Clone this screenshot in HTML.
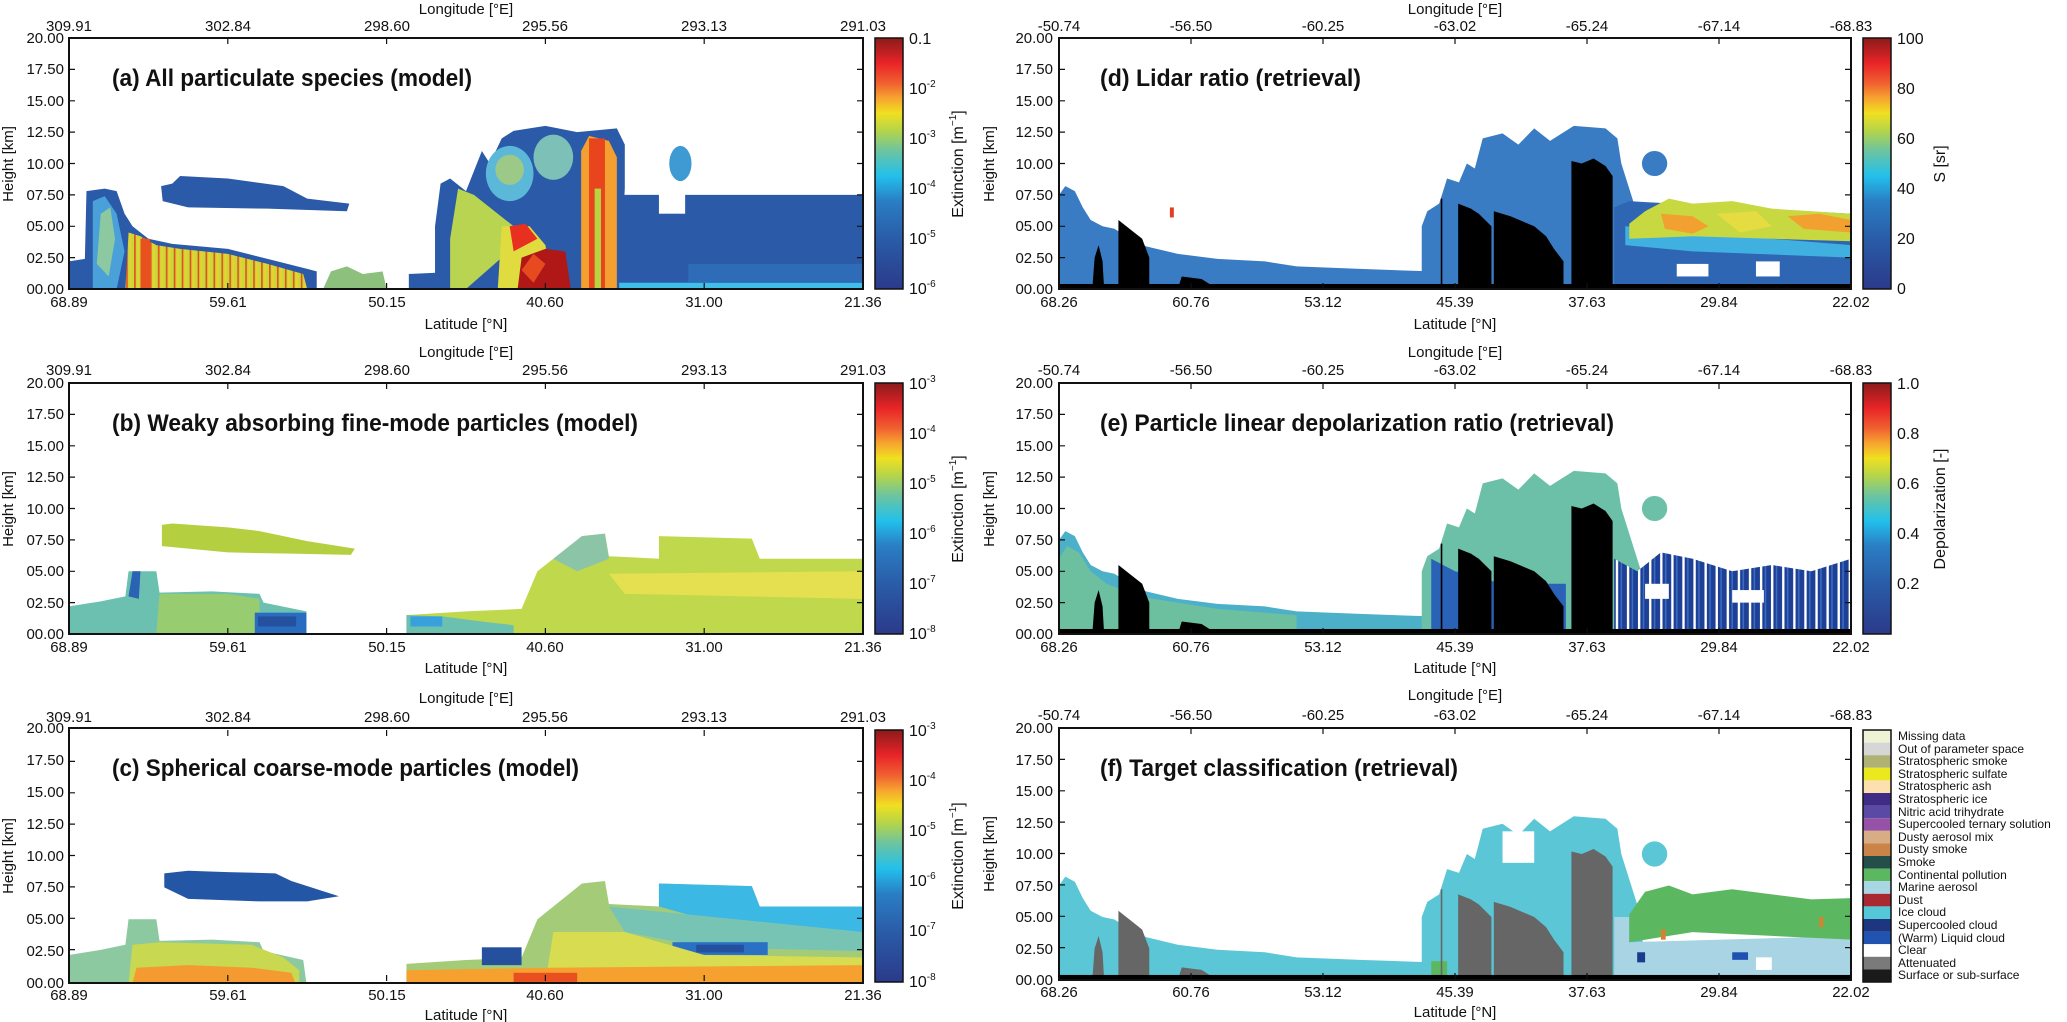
<!DOCTYPE html>
<html><head><meta charset="utf-8"><style>
html,body{margin:0;padding:0;background:#fff;}
svg{display:block;font-family:"Liberation Sans",sans-serif;}
.t{font-size:15px;fill:#111;}
.ti{font-size:24px;font-weight:bold;fill:#111;}
.lg{font-size:12px;fill:#111;}
</style></head><body>
<svg width="2067" height="1022" viewBox="0 0 2067 1022" xmlns="http://www.w3.org/2000/svg">
<defs>
<linearGradient id="jet" x1="0" y1="1" x2="0" y2="0">
<stop offset="0" stop-color="#2b3a8a"/><stop offset="0.2" stop-color="#2a5ca8"/><stop offset="0.35" stop-color="#2a7ec4"/><stop offset="0.45" stop-color="#22c0ec"/><stop offset="0.55" stop-color="#6cc4a0"/><stop offset="0.63" stop-color="#b4d44a"/><stop offset="0.7" stop-color="#f0e020"/><stop offset="0.76" stop-color="#f7a430"/><stop offset="0.82" stop-color="#f06030"/><stop offset="0.9" stop-color="#e82428"/><stop offset="1" stop-color="#8c1a1a"/>
</linearGradient>
<pattern id="streakE" width="14" height="200" patternUnits="userSpaceOnUse">
<rect width="14" height="200" fill="#1e3f96"/><rect x="3" width="3" height="200" fill="#fff"/><rect x="9" width="2" height="200" fill="#3a6cc0"/>
</pattern>
<pattern id="streakA" width="10" height="200" patternUnits="userSpaceOnUse">
<rect width="10" height="200" fill="#c8d838"/><rect x="2" width="2" height="200" fill="#e84a20"/><rect x="6" width="2" height="200" fill="#f0d030"/>
</pattern>
<path id="tkL" d="M0,0v6M158.8,0v6M317.6,0v6M476.4,0v6M635.2,0v6M794,0v6M0,251v-6M158.8,251v-6M317.6,251v-6M476.4,251v-6M635.2,251v-6M794,251v-6M0,31.4h6M0,62.8h6M0,94.1h6M0,125.5h6M0,156.9h6M0,188.3h6M0,219.6h6M794,31.4h-6M794,62.8h-6M794,94.1h-6M794,125.5h-6M794,156.9h-6M794,188.3h-6M794,219.6h-6" stroke="#111" stroke-width="1.2" fill="none"/>
<path id="tkR" d="M0,0v6M132,0v6M264,0v6M396,0v6M528,0v6M660,0v6M792,0v6M0,251v-6M132,251v-6M264,251v-6M396,251v-6M528,251v-6M660,251v-6M792,251v-6M0,31.4h6M0,62.8h6M0,94.1h6M0,125.5h6M0,156.9h6M0,188.3h6M0,219.6h6M792,31.4h-6M792,62.8h-6M792,94.1h-6M792,125.5h-6M792,156.9h-6M792,188.3h-6M792,219.6h-6" stroke="#111" stroke-width="1.2" fill="none"/>
<!-- right panel shared shapes -->
<polygon id="rLeft" points="0,200 0,125 8,118 20,122 30,135 40,145 55,150 70,152 90,160 110,166 150,172 200,176 260,178 300,182 380,184 470,186 470,200"/>
<polygon id="rCloud" points="458,200 458,150 465,138 480,132 490,112 505,115 515,100 525,104 535,80 560,76 580,85 600,72 620,82 650,70 690,72 705,80 710,100 720,120 735,150 740,200"/>
<ellipse id="rBlob" cx="752" cy="100" rx="16" ry="10"/>
<g id="rBlack">
<rect x="0" y="196" width="1000" height="4"/>
<polygon points="42,200 45,175 50,165 55,178 57,200"/>
<polygon points="75,200 75,145 85,150 95,155 105,160 114,175 114,200"/>
<polygon points="150,200 155,190 180,192 200,200"/>
<rect x="482" y="128" width="2" height="72"/>
<polygon points="504,200 504,132 520,136 530,140 546,150 546,200"/>
<polygon points="549,200 549,138 570,142 600,150 615,158 625,168 637,178 637,200"/>
<polygon points="647,200 647,98 660,100 675,96 690,102 699,110 699,200"/>
</g>
</defs>

<!-- ========== LEFT COLUMN ========== -->
<!-- (a) -->
<svg x="69" y="38" width="794" height="251" viewBox="0 0 1000 200" preserveAspectRatio="none">
<polygon fill="#2a5aa8" points="0,200 0,178 20,176 22,122 45,120 60,122 70,140 80,150 100,160 130,164 200,168 250,176 300,184 312,186 312,200"/>
<polygon fill="#4aa0d8" points="30,200 30,130 45,126 60,140 70,170 60,200"/>
<polygon fill="#8cc8a0" points="35,180 40,140 52,135 58,160 50,190"/>
<polygon fill="url(#streakA)" points="71,200 75,155 90,158 110,165 140,168 200,172 250,180 295,188 300,200"/>
<rect x="90" y="160" width="12" height="40" fill="#e8501e"/>
<polygon fill="#2a5aa8" points="116,118 130,116 140,110 200,112 270,118 300,128 353,132 350,138 250,136 150,135 118,130"/>
<polygon fill="#8cc07c" points="320,200 330,186 350,182 370,188 395,186 400,200"/>
<polygon fill="#2a5aa8" points="428,200 428,188 500,186 560,182 1000,182 1000,200"/>
<polygon fill="#2a5aa8" points="693,200 693,125 1000,125 1000,200"/>
<rect x="743" y="122" width="33" height="18" fill="#fff"/>
<polygon fill="#2a5aa8" points="461,200 461,150 468,116 480,112 500,122 520,90 530,100 545,80 560,74 600,70 640,75 690,72 700,85 700,120 693,200"/>
<ellipse cx="770" cy="100" rx="14" ry="14" fill="#3f9ad4"/>
<ellipse cx="555" cy="108" rx="30" ry="22" fill="#5cb8d8"/>
<ellipse cx="555" cy="105" rx="18" ry="12" fill="#9cc888"/>
<ellipse cx="610" cy="95" rx="25" ry="18" fill="#7cc0b8"/>
<polygon fill="#b8d450" points="480,160 490,120 510,125 540,140 560,150 545,175 500,200 480,200"/>
<polygon fill="#e0dc40" points="540,200 545,150 580,150 600,165 610,200"/>
<polygon fill="#e83020" points="555,150 575,148 590,160 560,170"/>
<polygon fill="#b01818" points="565,200 570,175 600,168 625,170 632,200"/>
<polygon fill="#e84a20" points="570,185 585,172 600,180 585,195"/>
<polygon fill="#f3a030" points="645,200 645,90 655,78 680,82 690,95 690,200"/>
<rect x="655" y="80" width="20" height="120" fill="#e8441e"/>
<rect x="662" y="120" width="8" height="80" fill="#b8d440"/>
<rect x="693" y="195" width="307" height="5" fill="#40c0e8"/>
<rect x="780" y="180" width="220" height="15" fill="#2f6cb8"/>
</svg>
<rect x="69" y="38" width="794" height="251" fill="none" stroke="#111" stroke-width="2"/>
<use href="#tkL" x="69" y="38"/>
<text class="ti" x="112" y="86" textLength="360" lengthAdjust="spacingAndGlyphs">(a)  All particulate species (model)</text>

<!-- (b) -->
<svg x="69" y="383" width="794" height="251" viewBox="0 0 1000 200" preserveAspectRatio="none">
<polygon fill="#b4d040" points="117,113 130,112 200,115 240,118 300,126 360,132 355,137 280,136 200,135 117,130"/>
<polygon fill="#6cc0b0" points="0,200 0,178 40,174 71,170 75,150 110,150 114,167 180,166 240,168 245,175 299,182 299,200"/>
<polygon fill="#98cc70" points="110,200 114,168 200,168 240,172 240,200"/>
<polygon fill="#2a62b4" points="75,170 80,150 90,150 88,172"/>
<rect x="234" y="183" width="65" height="17" fill="#2a6cc0"/>
<rect x="238" y="186" width="48" height="8" fill="#24509e"/>
<polygon fill="#c0d84c" points="425,200 425,185 500,182 570,180 590,150 610,140 646,122 675,120 680,138 743,140 743,122 860,124 870,140 1000,140 1000,200"/>
<polygon fill="#6cc0b0" points="425,200 425,185 470,186 520,190 560,193 560,200"/>
<polygon fill="#8cc4a8" points="610,140 646,122 675,120 680,140 640,150"/>
<polygon fill="#e4e050" points="680,152 1000,150 1000,172 700,168"/>
<rect x="430" y="186" width="40" height="8" fill="#38a0dc"/>
</svg>
<rect x="69" y="383" width="794" height="251" fill="none" stroke="#111" stroke-width="2"/>
<use href="#tkL" x="69" y="383"/>
<text class="ti" x="112" y="431" textLength="526" lengthAdjust="spacingAndGlyphs">(b)  Weaky absorbing fine-mode particles (model)</text>

<!-- (c) -->
<svg x="69" y="728" width="794" height="255" viewBox="0 0 1000 200" preserveAspectRatio="none">
<polygon fill="#2456a6" points="120,114 150,112 200,113 260,114 280,120 310,126 340,132 300,136 240,136 150,134 120,125"/>
<polygon fill="#8cc8a0" points="0,200 0,178 40,174 71,170 75,150 110,150 114,167 180,166 240,168 245,175 295,182 299,200"/>
<polygon fill="#c8d850" points="75,200 80,170 114,168 230,170 270,180 290,190 290,200"/>
<polygon fill="#f49a30" points="80,200 85,188 150,186 230,188 280,192 285,200"/>
<polygon fill="#a4cc78" points="425,200 425,185 500,182 570,180 590,150 610,140 646,122 675,120 680,138 743,140 743,122 860,124 870,140 1000,140 1000,200"/>
<polygon fill="#3cb8e4" points="743,122 860,124 870,140 1000,140 1000,165 900,160 800,150 743,140"/>
<polygon fill="#78c4b4" points="680,140 1000,160 1000,175 800,172 700,160"/>
<rect x="760" y="168" width="120" height="10" fill="#2a70c4"/>
<rect x="790" y="170" width="60" height="6" fill="#24509e"/>
<polygon fill="#d8dc50" points="600,200 610,160 700,160 800,178 1000,180 1000,200"/>
<rect x="520" y="172" width="50" height="14" fill="#24509e"/>
<polygon fill="#f6a030" points="425,200 425,190 600,188 1000,186 1000,200"/>
<rect x="560" y="192" width="80" height="8" fill="#e85020"/>
</svg>
<rect x="69" y="728" width="794" height="255" fill="none" stroke="#111" stroke-width="2"/>
<use href="#tkL" x="69" y="730"/>
<text class="ti" x="112" y="776" textLength="467" lengthAdjust="spacingAndGlyphs">(c)  Spherical coarse-mode particles (model)</text>

<!-- left axes text -->
<g class="t" text-anchor="middle">
<text x="466" y="14">Longitude  [°E]</text>
<text x="69" y="31">309.91</text><text x="228" y="31">302.84</text><text x="387" y="31">298.60</text><text x="545" y="31">295.56</text><text x="704" y="31">293.13</text><text x="863" y="31">291.03</text>
<text x="69" y="307">68.89</text><text x="228" y="307">59.61</text><text x="387" y="307">50.15</text><text x="545" y="307">40.60</text><text x="704" y="307">31.00</text><text x="863" y="307">21.36</text>
<text x="466" y="329">Latitude  [°N]</text>
<text x="466" y="357">Longitude  [°E]</text>
<text x="69" y="375">309.91</text><text x="228" y="375">302.84</text><text x="387" y="375">298.60</text><text x="545" y="375">295.56</text><text x="704" y="375">293.13</text><text x="863" y="375">291.03</text>
<text x="69" y="652">68.89</text><text x="228" y="652">59.61</text><text x="387" y="652">50.15</text><text x="545" y="652">40.60</text><text x="704" y="652">31.00</text><text x="863" y="652">21.36</text>
<text x="466" y="673">Latitude  [°N]</text>
<text x="466" y="703">Longitude  [°E]</text>
<text x="69" y="722">309.91</text><text x="228" y="722">302.84</text><text x="387" y="722">298.60</text><text x="545" y="722">295.56</text><text x="704" y="722">293.13</text><text x="863" y="722">291.03</text>
<text x="69" y="1000">68.89</text><text x="228" y="1000">59.61</text><text x="387" y="1000">50.15</text><text x="545" y="1000">40.60</text><text x="704" y="1000">31.00</text><text x="863" y="1000">21.36</text>
<text x="466" y="1020">Latitude  [°N]</text>
</g>
<g class="t" text-anchor="end">
<text x="64" y="43">20.00</text><text x="64" y="74">17.50</text><text x="64" y="106">15.00</text><text x="64" y="137">12.50</text><text x="64" y="169">10.00</text><text x="64" y="200">07.50</text><text x="64" y="231">05.00</text><text x="64" y="263">02.50</text><text x="64" y="294">00.00</text>
<text x="64" y="388">20.00</text><text x="64" y="419">17.50</text><text x="64" y="451">15.00</text><text x="64" y="482">12.50</text><text x="64" y="514">10.00</text><text x="64" y="545">07.50</text><text x="64" y="576">05.00</text><text x="64" y="608">02.50</text><text x="64" y="639">00.00</text>
<text x="64" y="733">20.00</text><text x="64" y="765">17.50</text><text x="64" y="797">15.00</text><text x="64" y="829">12.50</text><text x="64" y="861">10.00</text><text x="64" y="892">07.50</text><text x="64" y="924">05.00</text><text x="64" y="956">02.50</text><text x="64" y="988">00.00</text>
</g>
<g class="t" text-anchor="middle">
<text transform="translate(13,164) rotate(-90)">Height [km]</text>
<text transform="translate(13,509) rotate(-90)">Height [km]</text>
<text transform="translate(13,856) rotate(-90)">Height [km]</text>
</g>

<!-- left colorbars -->
<rect x="875" y="38" width="28" height="251" fill="url(#jet)" stroke="#111" stroke-width="1.5"/>
<rect x="875" y="383" width="28" height="251" fill="url(#jet)" stroke="#111" stroke-width="1.5"/>
<rect x="875" y="730" width="28" height="252" fill="url(#jet)" stroke="#111" stroke-width="1.5"/>
<g font-size="16" fill="#111">
<text x="909" y="44">0.1</text>
<text x="909" y="94">10<tspan dy="-7" font-size="10">-2</tspan></text>
<text x="909" y="144">10<tspan dy="-7" font-size="10">-3</tspan></text>
<text x="909" y="194">10<tspan dy="-7" font-size="10">-4</tspan></text>
<text x="909" y="244">10<tspan dy="-7" font-size="10">-5</tspan></text>
<text x="909" y="294">10<tspan dy="-7" font-size="10">-6</tspan></text>
<text x="909" y="389">10<tspan dy="-7" font-size="10">-3</tspan></text>
<text x="909" y="439">10<tspan dy="-7" font-size="10">-4</tspan></text>
<text x="909" y="489">10<tspan dy="-7" font-size="10">-5</tspan></text>
<text x="909" y="539">10<tspan dy="-7" font-size="10">-6</tspan></text>
<text x="909" y="589">10<tspan dy="-7" font-size="10">-7</tspan></text>
<text x="909" y="639">10<tspan dy="-7" font-size="10">-8</tspan></text>
<text x="909" y="736">10<tspan dy="-7" font-size="10">-3</tspan></text>
<text x="909" y="786">10<tspan dy="-7" font-size="10">-4</tspan></text>
<text x="909" y="836">10<tspan dy="-7" font-size="10">-5</tspan></text>
<text x="909" y="886">10<tspan dy="-7" font-size="10">-6</tspan></text>
<text x="909" y="936">10<tspan dy="-7" font-size="10">-7</tspan></text>
<text x="909" y="987">10<tspan dy="-7" font-size="10">-8</tspan></text>
<text transform="translate(963,164) rotate(-90)" text-anchor="middle">Extinction [m<tspan dy="-7" font-size="10">−1</tspan><tspan dy="7">]</tspan></text>
<text transform="translate(963,509) rotate(-90)" text-anchor="middle">Extinction [m<tspan dy="-7" font-size="10">−1</tspan><tspan dy="7">]</tspan></text>
<text transform="translate(963,856) rotate(-90)" text-anchor="middle">Extinction [m<tspan dy="-7" font-size="10">−1</tspan><tspan dy="7">]</tspan></text>
</g>

<!-- ========== RIGHT COLUMN ========== -->
<!-- (d) -->
<svg x="1059" y="38" width="792" height="251" viewBox="0 0 1000 200" preserveAspectRatio="none">
<use href="#rLeft" fill="#3a7cc4"/>
<use href="#rCloud" fill="#3a7cc4"/>
<use href="#rBlob" fill="#3a7cc4"/>
<polygon fill="#2f66b4" points="701,200 701,135 720,130 1000,140 1000,200"/>
<polygon fill="#40b0e0" points="715,150 800,155 1000,165 1000,175 800,170 715,165"/>
<polygon fill="#c8d840" points="720,148 740,138 770,128 800,132 850,130 900,136 950,138 1000,140 1000,162 900,160 800,158 720,160"/>
<polygon fill="#f2a030" points="760,140 800,142 820,150 800,156 765,152"/>
<polygon fill="#f2a030" points="920,142 960,140 1000,145 1000,155 940,152"/>
<polygon fill="#e4dc40" points="830,140 880,138 900,150 860,155"/>
<rect x="780" y="180" width="40" height="10" fill="#fff"/>
<rect x="880" y="178" width="30" height="12" fill="#fff"/>
<rect x="140" y="135" width="5" height="8" fill="#e04020"/>
<use href="#rBlack" fill="#000"/>
</svg>
<rect x="1059" y="38" width="792" height="251" fill="none" stroke="#111" stroke-width="2"/>
<use href="#tkR" x="1059" y="38"/>
<text class="ti" x="1100" y="86" textLength="261" lengthAdjust="spacingAndGlyphs">(d)  Lidar ratio (retrieval)</text>

<!-- (e) -->
<svg x="1059" y="383" width="792" height="251" viewBox="0 0 1000 200" preserveAspectRatio="none">
<use href="#rLeft" fill="#4cb0c8"/>
<polygon fill="#6cc0a0" points="0,200 0,140 10,130 25,135 40,150 60,160 100,170 200,180 300,185 300,200"/>
<use href="#rCloud" fill="#6cc0a8"/>
<use href="#rBlob" fill="#6cc0a8"/>
<polygon fill="#2a62b8" points="470,200 470,140 500,150 560,160 640,160 640,200"/>
<polygon fill="url(#streakE)" points="701,200 701,140 730,150 760,135 800,140 850,150 900,145 950,150 1000,140 1000,200"/>
<rect x="740" y="160" width="30" height="12" fill="#fff"/>
<rect x="850" y="165" width="40" height="10" fill="#fff"/>
<use href="#rBlack" fill="#000"/>
</svg>
<rect x="1059" y="383" width="792" height="251" fill="none" stroke="#111" stroke-width="2"/>
<use href="#tkR" x="1059" y="383"/>
<text class="ti" x="1100" y="431" textLength="514" lengthAdjust="spacingAndGlyphs">(e)  Particle linear depolarization ratio (retrieval)</text>

<!-- (f) -->
<svg x="1059" y="728" width="792" height="252" viewBox="0 0 1000 200" preserveAspectRatio="none">
<use href="#rLeft" fill="#5bc6d6"/>
<use href="#rCloud" fill="#5bc6d6"/>
<use href="#rBlob" fill="#5bc6d6"/>
<rect x="560" y="82" width="40" height="25" fill="#fff"/>
<polygon fill="#a8d4e4" points="701,200 701,150 720,150 720,170 1000,165 1000,198 701,198"/>
<polygon fill="#5cb860" points="720,148 740,130 770,125 800,132 850,128 900,132 950,136 1000,135 1000,168 900,165 800,162 720,170"/>
<rect x="760" y="160" width="6" height="8" fill="#d88030"/>
<rect x="960" y="150" width="5" height="8" fill="#d88030"/>
<rect x="730" y="178" width="10" height="8" fill="#1a3c8a"/>
<rect x="850" y="178" width="20" height="6" fill="#2050b0"/>
<rect x="880" y="182" width="20" height="10" fill="#fff"/>
<rect x="470" y="185" width="20" height="12" fill="#5cb860"/>
<use href="#rBlack" fill="#666"/>
<rect x="0" y="196" width="1000" height="4" fill="#000"/>
</svg>
<rect x="1059" y="728" width="792" height="252" fill="none" stroke="#111" stroke-width="2"/>
<use href="#tkR" x="1059" y="728"/>
<text class="ti" x="1100" y="776" textLength="358" lengthAdjust="spacingAndGlyphs">(f)  Target classification (retrieval)</text>

<!-- right axes text -->
<g class="t" text-anchor="middle">
<text x="1455" y="14">Longitude  [°E]</text>
<text x="1059" y="31">-50.74</text><text x="1191" y="31">-56.50</text><text x="1323" y="31">-60.25</text><text x="1455" y="31">-63.02</text><text x="1587" y="31">-65.24</text><text x="1719" y="31">-67.14</text><text x="1851" y="31">-68.83</text>
<text x="1059" y="307">68.26</text><text x="1191" y="307">60.76</text><text x="1323" y="307">53.12</text><text x="1455" y="307">45.39</text><text x="1587" y="307">37.63</text><text x="1719" y="307">29.84</text><text x="1851" y="307">22.02</text>
<text x="1455" y="329">Latitude  [°N]</text>
<text x="1455" y="357">Longitude  [°E]</text>
<text x="1059" y="375">-50.74</text><text x="1191" y="375">-56.50</text><text x="1323" y="375">-60.25</text><text x="1455" y="375">-63.02</text><text x="1587" y="375">-65.24</text><text x="1719" y="375">-67.14</text><text x="1851" y="375">-68.83</text>
<text x="1059" y="652">68.26</text><text x="1191" y="652">60.76</text><text x="1323" y="652">53.12</text><text x="1455" y="652">45.39</text><text x="1587" y="652">37.63</text><text x="1719" y="652">29.84</text><text x="1851" y="652">22.02</text>
<text x="1455" y="673">Latitude  [°N]</text>
<text x="1455" y="700">Longitude  [°E]</text>
<text x="1059" y="720">-50.74</text><text x="1191" y="720">-56.50</text><text x="1323" y="720">-60.25</text><text x="1455" y="720">-63.02</text><text x="1587" y="720">-65.24</text><text x="1719" y="720">-67.14</text><text x="1851" y="720">-68.83</text>
<text x="1059" y="997">68.26</text><text x="1191" y="997">60.76</text><text x="1323" y="997">53.12</text><text x="1455" y="997">45.39</text><text x="1587" y="997">37.63</text><text x="1719" y="997">29.84</text><text x="1851" y="997">22.02</text>
<text x="1455" y="1017">Latitude  [°N]</text>
</g>
<g class="t" text-anchor="end">
<text x="1053" y="43">20.00</text><text x="1053" y="74">17.50</text><text x="1053" y="106">15.00</text><text x="1053" y="137">12.50</text><text x="1053" y="169">10.00</text><text x="1053" y="200">07.50</text><text x="1053" y="231">05.00</text><text x="1053" y="263">02.50</text><text x="1053" y="294">00.00</text>
<text x="1053" y="388">20.00</text><text x="1053" y="419">17.50</text><text x="1053" y="451">15.00</text><text x="1053" y="482">12.50</text><text x="1053" y="514">10.00</text><text x="1053" y="545">07.50</text><text x="1053" y="576">05.00</text><text x="1053" y="608">02.50</text><text x="1053" y="639">00.00</text>
<text x="1053" y="733">20.00</text><text x="1053" y="765">17.50</text><text x="1053" y="796">15.00</text><text x="1053" y="828">12.50</text><text x="1053" y="859">10.00</text><text x="1053" y="891">07.50</text><text x="1053" y="922">05.00</text><text x="1053" y="954">02.50</text><text x="1053" y="985">00.00</text>
</g>
<g class="t" text-anchor="middle">
<text transform="translate(994,164) rotate(-90)">Height [km]</text>
<text transform="translate(994,509) rotate(-90)">Height [km]</text>
<text transform="translate(994,854) rotate(-90)">Height [km]</text>
</g>

<!-- right colorbars -->
<rect x="1863" y="38" width="28" height="251" fill="url(#jet)" stroke="#111" stroke-width="1.5"/>
<rect x="1863" y="383" width="28" height="251" fill="url(#jet)" stroke="#111" stroke-width="1.5"/>
<g font-size="16" fill="#111">
<text x="1897" y="44">100</text><text x="1897" y="94">80</text><text x="1897" y="144">60</text><text x="1897" y="194">40</text><text x="1897" y="244">20</text><text x="1897" y="294">0</text>
<text x="1897" y="389">1.0</text><text x="1897" y="439">0.8</text><text x="1897" y="489">0.6</text><text x="1897" y="539">0.4</text><text x="1897" y="589">0.2</text>
<text transform="translate(1945,164) rotate(-90)" text-anchor="middle">S [sr]</text>
<text transform="translate(1945,509) rotate(-90)" text-anchor="middle">Depolarization [-]</text>
</g>

<!-- legend (f) -->
<g stroke="none">
<rect x="1863" y="730" width="28" height="12.6" fill="#eef3d6"/>
<rect x="1863" y="742.6" width="28" height="12.6" fill="#d6d6d6"/>
<rect x="1863" y="755.2" width="28" height="12.6" fill="#b0b274"/>
<rect x="1863" y="767.8" width="28" height="12.6" fill="#ece81e"/>
<rect x="1863" y="780.4" width="28" height="12.6" fill="#fde0b0"/>
<rect x="1863" y="793" width="28" height="12.6" fill="#3f2d85"/>
<rect x="1863" y="805.6" width="28" height="12.6" fill="#5a4aa6"/>
<rect x="1863" y="818.2" width="28" height="12.6" fill="#9652a6"/>
<rect x="1863" y="830.8" width="28" height="12.6" fill="#d8ac84"/>
<rect x="1863" y="843.4" width="28" height="12.6" fill="#ca8448"/>
<rect x="1863" y="856" width="28" height="12.6" fill="#234f48"/>
<rect x="1863" y="868.6" width="28" height="12.6" fill="#5cb860"/>
<rect x="1863" y="881.2" width="28" height="12.6" fill="#a8d6e2"/>
<rect x="1863" y="893.8" width="28" height="12.6" fill="#a82a30"/>
<rect x="1863" y="906.4" width="28" height="12.6" fill="#55c8d8"/>
<rect x="1863" y="919" width="28" height="12.6" fill="#1e3580"/>
<rect x="1863" y="931.6" width="28" height="12.6" fill="#2054b0"/>
<rect x="1863" y="944.2" width="28" height="12.6" fill="#ffffff"/>
<rect x="1863" y="956.8" width="28" height="12.6" fill="#7a7a7a"/>
<rect x="1863" y="969.4" width="28" height="12.6" fill="#1a1a1a"/>
</g>
<rect x="1863" y="730" width="28" height="252" fill="none" stroke="#111" stroke-width="1.5"/>
<g class="lg">
<text x="1898" y="740">Missing data</text>
<text x="1898" y="753">Out of parameter space</text>
<text x="1898" y="765">Stratospheric smoke</text>
<text x="1898" y="778">Stratospheric sulfate</text>
<text x="1898" y="790">Stratospheric ash</text>
<text x="1898" y="803">Stratospheric ice</text>
<text x="1898" y="816">Nitric acid trihydrate</text>
<text x="1898" y="828">Supercooled ternary solution</text>
<text x="1898" y="841">Dusty aerosol mix</text>
<text x="1898" y="853">Dusty smoke</text>
<text x="1898" y="866">Smoke</text>
<text x="1898" y="879">Continental pollution</text>
<text x="1898" y="891">Marine aerosol</text>
<text x="1898" y="904">Dust</text>
<text x="1898" y="916">Ice cloud</text>
<text x="1898" y="929">Supercooled cloud</text>
<text x="1898" y="942">(Warm) Liquid cloud</text>
<text x="1898" y="954">Clear</text>
<text x="1898" y="967">Attenuated</text>
<text x="1898" y="979">Surface or sub-surface</text>
</g>
</svg>
</body></html>
